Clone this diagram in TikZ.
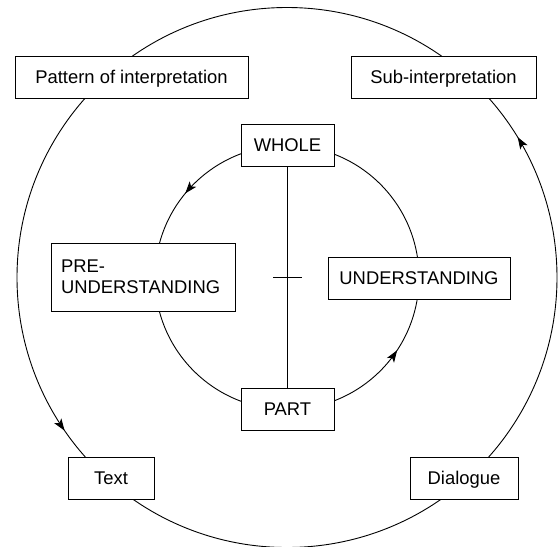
\documentclass[tikz,border=0pt]{standalone}
\usepackage{fontspec}
\setmainfont{Liberation Sans}
\usetikzlibrary{arrows.meta,decorations.markings,calc}
\begin{document}
\begin{tikzpicture}[x=1pt,y=1pt,line width=0.9pt,
  >={Stealth[length=12pt,width=8.5pt,inset=3pt]},
  box/.style={draw,fill=white,inner sep=0pt,minimum height=42pt,
    text height=13.2pt,text depth=0pt,font=\fontsize{18.4}{21.5}\selectfont}]
\useasboundingbox (0,0) rectangle (558,-547);
\coordinate (C) at (287,-277.5);
% outer and inner cycles (counterclockwise flow)
\draw[postaction={decorate},decoration={markings,
    mark=at position 0.087 with {\arrow{>}},
    mark=at position 0.596 with {\arrow{>}}}]
  (C) circle (270pt);
\draw[postaction={decorate},decoration={markings,
    mark=at position 0.390 with {\arrow{>}},
    mark=at position 0.907 with {\arrow{>}}}]
  (C) circle (132pt);
% nodes
\node[box,minimum width=233pt] (pattern) at (131.5,-77) {Pattern of interpretation};
\node[box,minimum width=185pt] (sub) at (443.5,-77) {Sub-interpretation};
\node[box,minimum width=93pt] (whole) at (287.5,-145) {WHOLE};
\node[box,minimum width=93pt] (part) at (287.5,-409) {PART};
\node[box,minimum width=182pt] (under) at (419,-278) {UNDERSTANDING};
\node[draw,fill=white,inner sep=0pt,minimum width=184pt,minimum height=68pt,
  text width=164pt,align=left,font=\fontsize{18.4}{21.5}\selectfont]
  (pre) at (143,-277) {PRE-\\UNDERSTANDING};
\node[box,minimum width=86pt] (text) at (111,-478) {Text};
\node[box,minimum width=108pt] (dialogue) at (464,-478) {Dialogue};
% axis between whole and part with a tick
\draw (whole.south) -- (part.north);
\coordinate (tick) at ($(whole.south)!0.5!(part.north)$);
\draw ($(tick)+(-14.5,0)$) -- ($(tick)+(14.5,0)$);
\end{tikzpicture}
\end{document}
